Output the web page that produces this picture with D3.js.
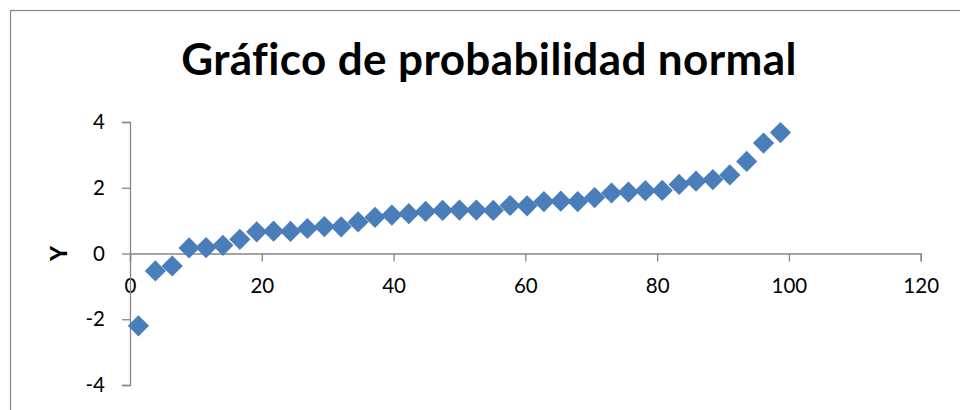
<!DOCTYPE html>
<html>
<head>
<meta charset="utf-8">
<script src="https://cdn.jsdelivr.net/npm/d3@7"></script>
<style>
  body { margin: 0; background: #fff; }
  svg { display: block; }
  text { font-variant-ligatures: none; }
</style>
</head>
<body>
<div id="chart"></div>
<script>
// --- DATOS ---
const titulo = "Gráfico de probabilidad normal";
const etiquetaY = "Y";
// percentil de cada observación
const percentiles = [1.28, 3.85, 6.41, 8.97, 11.54, 14.10, 16.67, 19.23, 21.79, 24.36,
    26.92, 29.49, 32.05, 34.62, 37.18, 39.74, 42.31, 44.87, 47.44, 50.00,
    52.56, 55.13, 57.69, 60.26, 62.82, 65.38, 67.95, 70.51, 73.08, 75.64,
    78.21, 80.77, 83.33, 85.90, 88.46, 91.03, 93.59, 96.15, 98.72];
// valores Y ordenados
const valoresY = [-2.20, -0.53, -0.38, 0.17, 0.18, 0.25, 0.43, 0.66, 0.68, 0.67,
    0.76, 0.82, 0.81, 0.96, 1.10, 1.17, 1.21, 1.28, 1.31, 1.32,
    1.32, 1.31, 1.46, 1.45, 1.58, 1.59, 1.58, 1.70, 1.84, 1.87,
    1.91, 1.92, 2.10, 2.20, 2.25, 2.39, 2.80, 3.36, 3.68];
const ticksX = [0, 20, 40, 60, 80, 100, 120];
const ticksY = [-4, -2, 0, 2, 4];

const width = 960, height = 410;
const fuente = "Lato, 'Open Sans', sans-serif";
const azul = "#4A7EBB";
const gris = "#868686";

const svg = d3.select("#chart").append("svg")
    .attr("width", width)
    .attr("height", height)
    .attr("font-family", fuente);

// borde del área del gráfico
svg.append("rect")
    .attr("x", 10.5).attr("y", 10.5)
    .attr("width", 1000).attr("height", 1000)
    .attr("fill", "#fff")
    .attr("stroke", gris)
    .attr("stroke-width", 1.2);

const x = d3.scaleLinear().domain([0, 120]).range([130, 920.7]);
const y = d3.scaleLinear().domain([-4, 4]).range([385, 122]);

// eje X (cruza en y = 0)
const ejeX = svg.append("g")
    .attr("transform", `translate(0,${y(0)})`)
    .call(d3.axisBottom(x).tickValues(ticksX).tickSize(8).tickPadding(18).tickFormat(d => String(d)));

// eje Y (cruza en x = 0)
const ejeY = svg.append("g")
    .attr("transform", `translate(${x(0)},0)`)
    .call(d3.axisLeft(y).tickValues(ticksY).tickSize(8).tickPadding(17).tickFormat(d => String(d)));

[ejeX, ejeY].forEach(eje => {
    eje.select(".domain").attr("stroke", gris).attr("stroke-width", 1.3);
    eje.selectAll(".tick line").attr("stroke", gris).attr("stroke-width", 1.3);
    eje.selectAll(".tick text")
        .attr("fill", "#000")
        .attr("font-family", fuente)
        .attr("font-size", 20.5);
});
ejeX.selectAll(".tick text").attr("dy", "0.66em");

// puntos en forma de rombo
const rombo = d3.symbol().type(d3.symbolSquare).size(225);
svg.append("g")
    .selectAll("path")
    .data(percentiles.map((p, i) => ({p, v: valoresY[i]})))
    .join("path")
    .attr("d", rombo)
    .attr("transform", d => `translate(${x(d.p)},${y(d.v)}) rotate(45)`)
    .attr("fill", azul);

// título
svg.append("text")
    .attr("x", 489)
    .attr("y", 75)
    .attr("text-anchor", "middle")
    .attr("font-size", 44)
    .attr("font-weight", "bold")
    .attr("letter-spacing", 0.4)
    .attr("fill", "#000")
    .text(titulo);

// etiqueta del eje Y
svg.append("text")
    .attr("transform", `translate(67,${y(0)}) rotate(-90)`)
    .attr("text-anchor", "middle")
    .attr("font-size", 23)
    .attr("font-weight", 900)
    .attr("fill", "#000")
    .text(etiquetaY);
</script>
</body>
</html>
